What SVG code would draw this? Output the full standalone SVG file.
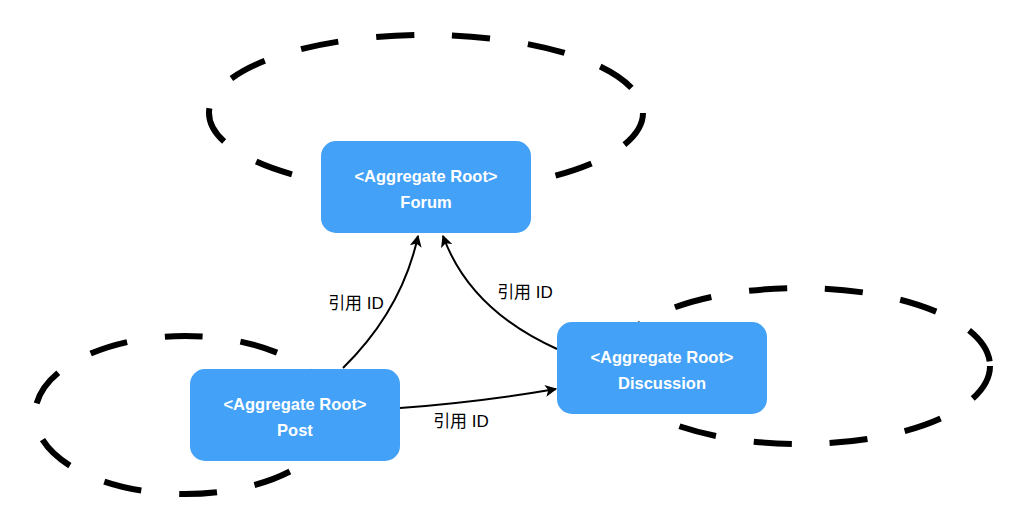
<svg xmlns="http://www.w3.org/2000/svg" width="1024" height="518" viewBox="0 0 1024 518">
<style>
.bound{fill:none;stroke:#000;stroke-width:6;stroke-dasharray:38 38}
.box{fill:#43A1F7;stroke:none}
.nt{font-family:"Liberation Sans",Arial,sans-serif;font-size:16.5px;font-weight:bold;fill:#fff;text-anchor:middle}
.edge{fill:none;stroke:#000;stroke-width:2}
.lbl{font-family:"Liberation Sans","Noto Sans CJK SC",sans-serif;font-size:17px;fill:#000;text-anchor:middle}
</style>
<defs>
<marker id="arr" viewBox="0 0 10 10" refX="9" refY="5" markerWidth="12" markerHeight="12" markerUnits="userSpaceOnUse" orient="auto">
<path d="M0,0 L10,5 L0,10 L2.5,5 Z" fill="#000"/>
</marker>
</defs>
<rect width="1024" height="518" fill="#fff"/>
<g id="boundaries">
<ellipse class="bound" cx="426" cy="113" rx="217" ry="78"/>
<ellipse class="bound" cx="185" cy="415" rx="150" ry="79"/>
<ellipse class="bound" cx="800" cy="366" rx="190" ry="78"/>
</g>
<g id="connectors">
<path class="edge" d="M343,368 Q402,310 418,236" marker-end="url(#arr)"/>
<path class="edge" d="M557,349 Q470,310 443,236" marker-end="url(#arr)"/>
<path class="edge" d="M400,408 Q480,402 556,389" marker-end="url(#arr)"/>
<text class="lbl" x="356" y="309">引用 ID</text>
<text class="lbl" x="525" y="298">引用 ID</text>
<text class="lbl" x="461" y="427">引用 ID</text>
</g>
<g id="forum">
<rect class="box" x="321" y="141" width="210" height="92" rx="15"/>
<text class="nt" x="426" y="182">&lt;Aggregate Root&gt;</text>
<text class="nt" x="426" y="208">Forum</text>
</g>
<g id="post">
<rect class="box" x="190" y="369" width="210" height="92" rx="15"/>
<text class="nt" x="295" y="410">&lt;Aggregate Root&gt;</text>
<text class="nt" x="295" y="436">Post</text>
</g>
<g id="discussion">
<rect class="box" x="557" y="322" width="210" height="92" rx="15"/>
<text class="nt" x="662" y="363">&lt;Aggregate Root&gt;</text>
<text class="nt" x="662" y="389">Discussion</text>
</g>
</svg>
